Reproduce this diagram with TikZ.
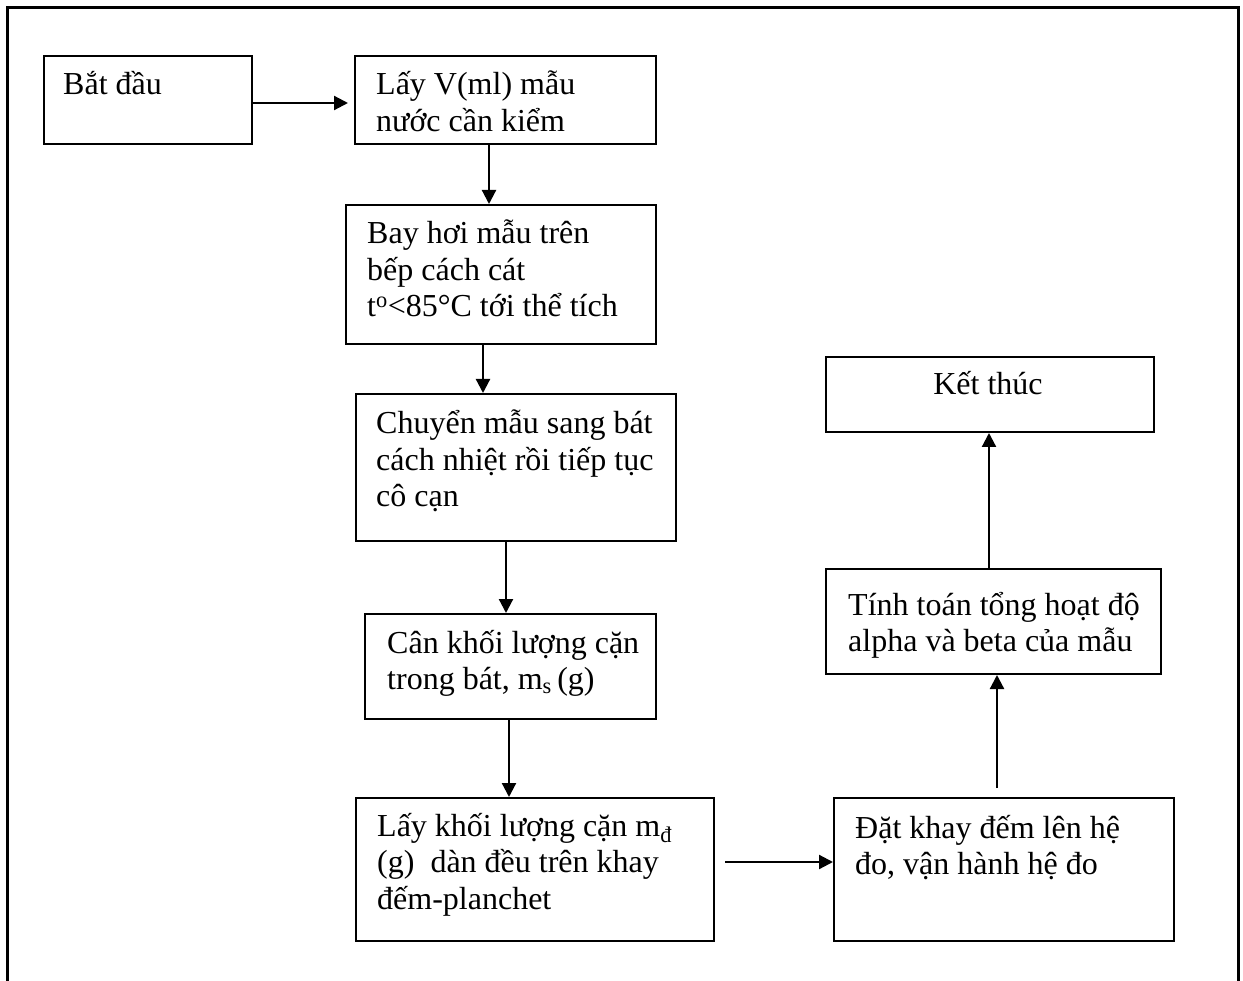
\documentclass[tikz,border=0pt]{standalone}
\usepackage{fontspec}
\setmainfont{Liberation Serif}
\usetikzlibrary{arrows.meta}
\begin{document}
\begin{tikzpicture}[x=1pt,y=-1pt,
  box/.style={draw, line width=2pt, inner sep=0pt, anchor=north west},
  txt/.style={anchor=base west, inner sep=0pt, font=\fontsize{32}{36.5}\selectfont},
  arr/.style={line width=2.2pt, -{Triangle[length=14pt,width=14pt]}},
  frame/.style={line width=3pt}]
\useasboundingbox (0,0) rectangle (1243,981);
\draw[frame] (7,981) -- (7,8) -- (1238,8) -- (1238,981);
% boxes
\node[box, minimum width=208pt, minimum height=88pt]  (b1) at (43,55) {};
\node[box, minimum width=301pt, minimum height=88pt]  (b2) at (354,55) {};
\node[box, minimum width=310pt, minimum height=139pt] (b3) at (345,204) {};
\node[box, minimum width=320pt, minimum height=147pt] (b4) at (355,393) {};
\node[box, minimum width=291pt, minimum height=105pt] (b5) at (364,613) {};
\node[box, minimum width=358pt, minimum height=143pt] (b6) at (355,797) {};
\node[box, minimum width=340pt, minimum height=143pt] (b7) at (833,797) {};
\node[box, minimum width=335pt, minimum height=105pt] (b8) at (825,568) {};
\node[box, minimum width=328pt, minimum height=75pt]  (b9) at (825,356) {};
% texts
\node[txt] (t1) at (63,95) {Bắt đầu};
\node[txt] (t2) at (376,95) {\vtop{\hbox{Lấy V(ml) mẫu}\hbox{nước cần kiểm}}};
\node[txt] (t3) at (367,244) {\vtop{\hbox{Bay hơi mẫu trên}\hbox{bếp cách cát}\hbox{t\textsuperscript{o}<85°C tới thể tích}}};
\node[txt] (t4) at (376,434) {\vtop{\hbox{Chuyển mẫu sang bát}\hbox{cách nhiệt rồi tiếp tục}\hbox{cô cạn}}};
\node[txt] (t5) at (387,653) {\vtop{\hbox{Cân khối lượng cặn}\hbox{trong bát, m\textsubscript{s}\,(g)}}};
\node[txt] (t6) at (377,836) {\vtop{\hbox{Lấy khối lượng cặn m\textsubscript{đ}}\hbox{(g)\ \ dàn đều trên khay}\hbox{đếm-planchet}}};
\node[txt] (t7) at (855,838) {\vtop{\hbox{Đặt khay đếm lên hệ}\hbox{đo, vận hành hệ đo}}};
\node[txt] (t8) at (848,615) {\vtop{\hbox{Tính toán tổng hoạt độ}\hbox{alpha và beta của mẫu}}};
\node[txt, anchor=base] (t9) at (988,395) {Kết thúc};
% connector guides
\coordinate (y12) at (0,103);
\coordinate (x23) at (489,0);
\coordinate (x34) at (483,0);
\coordinate (x45) at (506,0);
\coordinate (x56) at (509,0);
\coordinate (y67) at (0,862);
\coordinate (x78) at (997,0);
\coordinate (x89) at (989,0);
% connectors
\draw[arr, shorten >=6pt] (b1.east |- y12) -- (b2.west |- y12);
\draw[arr] (b2.south -| x23) -- (b3.north -| x23);
\draw[arr] (b3.south -| x34) -- (b4.north -| x34);
\draw[arr] (b4.south -| x45) -- (b5.north -| x45);
\draw[arr] (b5.south -| x56) -- (b6.north -| x56);
\draw[arr, shorten <=10pt] (b6.east |- y67) -- (b7.west |- y67);
\draw[arr, shorten <=9pt] (b7.north -| x78) -- (b8.south -| x78);
\draw[arr] (b8.north -| x89) -- (b9.south -| x89);
\end{tikzpicture}
\end{document}
